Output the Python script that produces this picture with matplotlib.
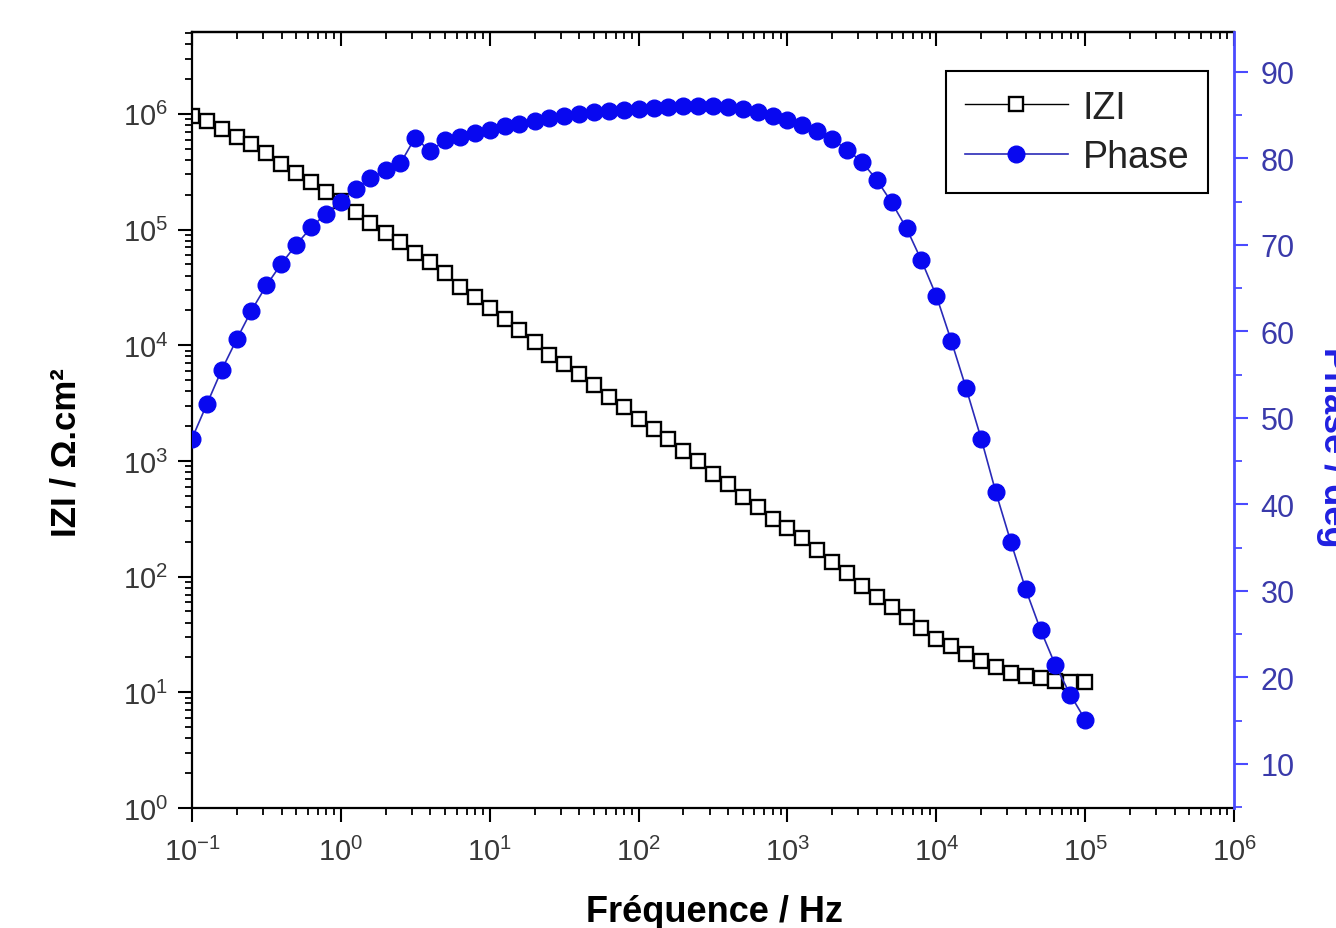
import matplotlib
matplotlib.use("Agg")
import matplotlib.pyplot as plt
from matplotlib.ticker import LogLocator, NullFormatter, MultipleLocator, LogFormatterSciNotation

plt.rcParams['font.family'] = ['Liberation Sans', 'DejaVu Sans']
plt.rcParams['mathtext.default'] = 'regular'

# frequences (Hz), 10 points par decade
freq = [0.1, 0.126, 0.158, 0.2, 0.251, 0.316, 0.398, 0.501, 0.631, 0.794,
        1, 1.26, 1.58, 2, 2.51, 3.16, 3.98, 5.01, 6.31, 7.94,
        10, 12.6, 15.8, 20, 25.1, 31.6, 39.8, 50.1, 63.1, 79.4,
        100, 126, 158, 200, 251, 316, 398, 501, 631, 794,
        1000, 1260, 1580, 2000, 2510, 3160, 3980, 5010, 6310, 7940,
        10000, 12600, 15800, 20000, 25100, 31600, 39800, 50100, 63100, 79400,
        100000]

# module |Z| (ohm.cm2)
z_mod = [9.6e5, 8.7e5, 7.4e5, 6.3e5, 5.5e5, 4.6e5, 3.7e5, 3.1e5, 2.6e5, 2.1e5,
         1.78e5, 1.41e5, 1.15e5, 9.3e4, 7.8e4, 6.3e4, 5.2e4, 4.2e4, 3.2e4, 2.6e4,
         2.1e4, 1.7e4, 1.35e4, 1.07e4, 8.3e3, 6.9e3, 5.6e3, 4.5e3, 3.6e3, 2.9e3,
         2.3e3, 1.9e3, 1.55e3, 1.23e3, 1.0e3, 776, 631, 490, 398, 316,
         263, 214, 170, 135, 107, 83, 66, 55, 45, 36,
         29, 25, 21.4, 18.6, 16.6, 14.8, 13.8, 13.2, 12.6, 12.3,
         12.3]

# phase (deg)
phase = [47.6, 51.6, 55.5, 59.1, 62.4, 65.3, 67.8, 70.0, 72.0, 73.6,
         75.0, 76.5, 77.7, 78.6, 79.4, 82.4, 80.8, 82.1, 82.5, 82.9,
         83.3, 83.7, 84.0, 84.3, 84.6, 84.9, 85.1, 85.3, 85.5, 85.6,
         85.7, 85.8, 85.9, 86.0, 86.0, 86.0, 85.9, 85.7, 85.3, 84.9,
         84.4, 83.8, 83.1, 82.2, 81.0, 79.6, 77.5, 74.9, 71.9, 68.2,
         64.1, 58.9, 53.5, 47.6, 41.4, 35.7, 30.2, 25.5, 21.4, 18.0,
         15.1]

blue_axis = '#4a4aff'
blue_text = '#3a3aaa'
gray_text = '#383838'

fig = plt.figure(figsize=(13.36, 9.29), dpi=100)
ax = fig.add_axes([0.1437, 0.1292, 0.78, 0.8353])

l1, = ax.plot(freq, z_mod, color='black', lw=1.0, marker='s', ms=9.5,
              mfc='white', mec='black', mew=1.7, label='IZI')
ax.set_xscale('log')
ax.set_yscale('log')
ax.set_xlim(0.1, 1e6)
ax.set_ylim(1, 5.1e6)

ax.xaxis.set_major_locator(LogLocator(base=10, numticks=20))
ax.xaxis.set_minor_locator(LogLocator(base=10, subs=range(2, 10), numticks=20))
ax.yaxis.set_major_locator(LogLocator(base=10, numticks=20))
ax.yaxis.set_minor_locator(LogLocator(base=10, subs=range(2, 10), numticks=20))
ax.xaxis.set_major_formatter(LogFormatterSciNotation())
ax.yaxis.set_major_formatter(LogFormatterSciNotation())
ax.xaxis.set_minor_formatter(NullFormatter())
ax.yaxis.set_minor_formatter(NullFormatter())

ax.tick_params(which='major', direction='out', length=10, width=1.5,
               labelsize=21, labelcolor=gray_text, pad=7)
ax.tick_params(axis='x', which='major', pad=11)
ax.tick_params(which='minor', direction='out', length=5, width=1.3)
ax.tick_params(axis='y', right=False)
for s in ['left', 'bottom', 'top']:
    ax.spines[s].set_linewidth(1.6)
ax.spines['right'].set_visible(False)

# ticks du haut vers l'interieur
top = ax.secondary_xaxis('top')
top.tick_params(which='major', direction='in', length=10, width=1.5, labeltop=False)
top.tick_params(which='minor', direction='in', length=5, width=1.3)
top.xaxis.set_minor_locator(LogLocator(base=10, subs=range(2, 10), numticks=20))
top.xaxis.set_minor_formatter(NullFormatter())
top.spines['top'].set_linewidth(1.6)

ax2 = ax.twinx()
l2, = ax2.plot(freq, phase, color='#2a2ab8', lw=1.2, marker='o', ms=12,
               mfc='#0808f0', mec='#0808f0', label='Phase')
ax2.set_ylim(4.9, 94.6)
ax2.yaxis.set_major_locator(MultipleLocator(10))
ax2.yaxis.set_minor_locator(MultipleLocator(5))
ax2.tick_params(axis='y', which='major', direction='out', length=10, width=1.5,
                colors=blue_axis, labelcolor=blue_text, labelsize=22, pad=9)
ax2.tick_params(axis='y', which='minor', direction='out', length=6, width=1.3,
                colors=blue_axis)
ax2.spines['right'].set_color(blue_axis)
ax2.spines['right'].set_linewidth(2.0)
for s in ['left', 'top', 'bottom']:
    ax2.spines[s].set_visible(False)

leg = ax2.legend([l1, l2], ['IZI', 'Phase'], loc='upper right',
                 bbox_to_anchor=(0.975, 0.95), borderaxespad=0, fontsize=27,
                 fancybox=False, framealpha=1, edgecolor='black',
                 handlelength=2.75, handletextpad=0.4, borderpad=0.5,
                 labelspacing=0.35, numpoints=1)
leg.get_frame().set_linewidth(1.5)
for t in leg.get_texts():
    t.set_color('#222222')

fig.text(0.0494, 0.513, 'IZI / Ω.cm²', rotation=90, ha='center', va='center',
         fontsize=25, fontweight='bold', color='black')
fig.text(0.535, 0.0075, 'Fréquence / Hz', ha='center', va='baseline',
         fontsize=26, fontweight='bold', color='black')
fig.text(0.9985, 0.518, 'Phase / deg', rotation=270, ha='center', va='center',
         fontsize=26, fontweight='bold', color='#2020e0')

fig.savefig('out.png', dpi=100)
